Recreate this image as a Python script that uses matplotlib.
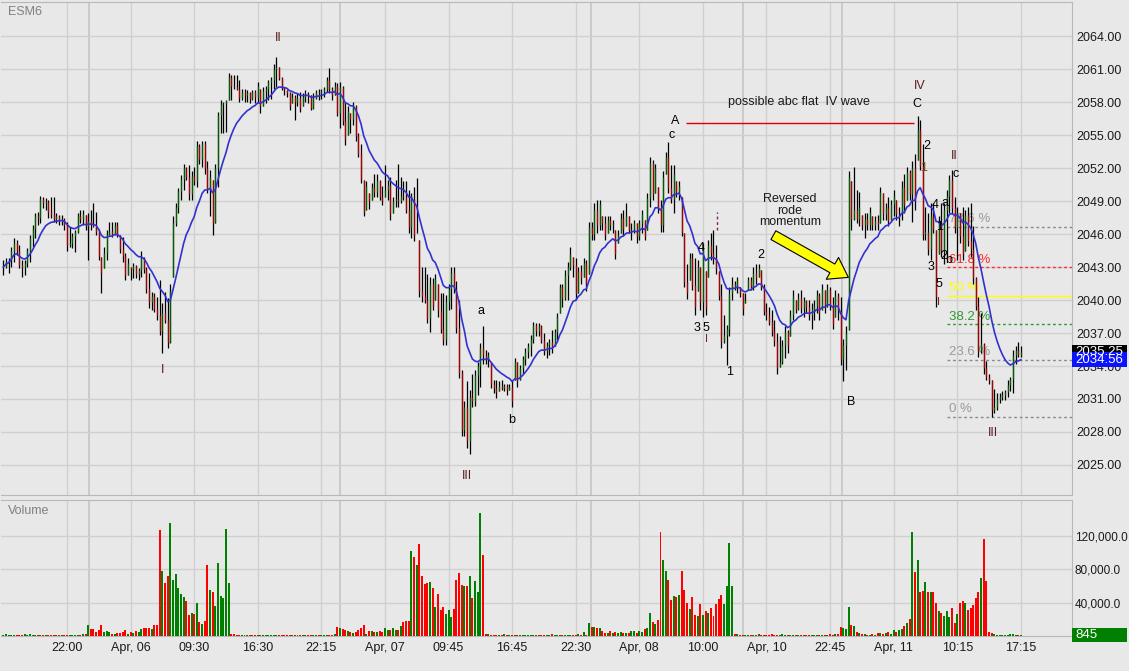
import matplotlib.pyplot as plt
import numpy as np
import pandas as pd
from matplotlib.patches import Rectangle
from matplotlib.transforms import blended_transform_factory

plt.rcParams['font.family'] = ['Liberation Sans', 'DejaVu Sans']

# ESM6 bars (one bar per column, left to right)
highs = [
    2043.6, 2043.8, 2043.8, 2044.8, 2045.6, 2045.5, 2045.0, 2043.6, 2043.6, 2044.7,
    2045.9, 2046.8, 2047.9, 2048.0, 2049.5, 2049.4, 2049.3, 2049.1, 2049.4, 2049.4,
    2047.9, 2047.7, 2047.7, 2047.5, 2047.1, 2046.6, 2046.1, 2046.4, 2047.9, 2048.2,
    2048.2, 2047.7, 2047.9, 2048.2, 2048.8, 2048.0, 2046.5, 2043.9, 2044.8, 2046.4,
    2047.1, 2047.1, 2047.1, 2047.1, 2045.9, 2045.7, 2044.3, 2043.8, 2043.0, 2043.4,
    2043.2, 2042.9, 2044.5, 2043.9, 2043.0, 2042.5, 2040.7, 2040.6, 2040.3, 2041.8,
    2039.7, 2040.7, 2040.2, 2041.5, 2047.6, 2048.8, 2050.2, 2051.4, 2052.4, 2052.1,
    2052.3, 2051.7, 2052.1, 2054.5, 2054.2, 2054.5, 2054.5, 2052.6, 2051.8, 2050.9,
    2052.4, 2057.1, 2058.2, 2058.0, 2058.2, 2060.6, 2060.5, 2060.5, 2060.5, 2060.0,
    2059.2, 2059.2, 2059.1, 2058.9, 2059.1, 2059.1, 2059.8, 2059.2, 2059.4, 2059.5,
    2060.0, 2060.3, 2061.5, 2062.1, 2061.2, 2060.3, 2059.4, 2059.1, 2058.9, 2058.8,
    2058.6, 2058.8, 2058.9, 2058.8, 2059.1, 2058.9, 2058.6, 2058.8, 2059.1, 2059.2,
    2059.2, 2059.4, 2060.3, 2061.1, 2059.4, 2059.8, 2059.7, 2059.8, 2059.5, 2058.0,
    2057.6, 2057.0, 2058.0, 2057.7, 2055.2, 2054.2, 2050.9, 2050.8, 2049.7, 2050.6,
    2051.5, 2051.5, 2050.9, 2050.4, 2052.3, 2050.9, 2051.2, 2049.4, 2050.9, 2052.4,
    2051.2, 2050.8, 2050.8, 2050.0, 2049.7, 2050.3, 2051.1, 2045.5, 2043.0, 2043.0,
    2042.4, 2042.1, 2042.0, 2042.4, 2041.5, 2040.6, 2040.6, 2040.5, 2041.5, 2043.0,
    2043.0, 2041.7, 2040.0, 2033.6, 2030.8, 2032.6, 2031.8, 2033.3, 2033.6, 2034.4,
    2036.1, 2037.6, 2035.5, 2035.3, 2034.4, 2032.7, 2032.7, 2032.6, 2032.7, 2032.4,
    2032.4, 2032.4, 2032.7, 2034.7, 2034.4, 2034.1, 2034.9, 2035.6, 2036.1, 2036.8,
    2038.0, 2037.9, 2037.9, 2037.7, 2037.0, 2036.2, 2036.5, 2037.3, 2037.4, 2038.8,
    2041.5, 2041.5, 2042.7, 2043.5, 2044.8, 2043.9, 2043.8, 2043.0, 2043.2, 2043.8,
    2043.6, 2047.1, 2047.1, 2048.8, 2049.1, 2049.1, 2047.6, 2047.6, 2047.6, 2047.6,
    2047.3, 2046.4, 2046.4, 2047.9, 2048.2, 2048.8, 2047.6, 2047.0, 2047.3, 2047.0,
    2047.3, 2048.2, 2047.3, 2049.7, 2053.0, 2052.7, 2052.4, 2050.3, 2049.1, 2051.7,
    2053.5, 2054.4, 2052.3, 2052.3, 2050.8, 2050.8, 2049.4, 2046.1, 2043.3, 2044.3,
    2044.3, 2043.8, 2043.6, 2043.0, 2045.2, 2042.6, 2045.5, 2046.1, 2046.4, 2045.0,
    2042.6, 2041.5, 2038.6, 2037.7, 2041.2, 2042.1, 2041.7, 2042.1, 2041.2, 2040.6,
    2040.6, 2042.1, 2042.1, 2043.0, 2043.3, 2043.3, 2042.7, 2041.5, 2039.7, 2039.4,
    2039.1, 2038.2, 2037.0, 2036.7, 2036.4, 2037.6, 2037.3, 2039.1, 2040.9, 2040.0,
    2040.6, 2040.9, 2040.3, 2040.0, 2040.0, 2039.7, 2040.0, 2040.9, 2040.6, 2041.5,
    2040.9, 2041.5, 2041.2, 2040.3, 2040.9, 2040.6, 2040.3, 2036.5, 2037.6, 2051.7,
    2050.8, 2052.1, 2050.0, 2049.8, 2047.7, 2047.9, 2047.9, 2048.5, 2047.6, 2047.6,
    2047.7, 2050.3, 2049.7, 2048.8, 2049.4, 2049.1, 2050.0, 2049.1, 2048.5, 2050.8,
    2051.5, 2052.1, 2051.8, 2052.6, 2053.3, 2056.7, 2056.4, 2054.2, 2048.5, 2047.9,
    2048.8, 2048.8, 2046.4, 2047.6, 2048.8, 2048.8, 2050.0, 2051.4, 2051.8, 2049.4,
    2048.5, 2047.9, 2048.5, 2048.2, 2048.5, 2048.8, 2046.7, 2042.1, 2040.3, 2038.8,
    2036.1, 2034.5, 2033.3, 2032.7, 2031.9, 2031.5, 2031.5, 2031.7, 2031.8, 2032.7,
    2033.0, 2035.5, 2035.8, 2036.2, 2035.8,
]
lows = [
    2042.3, 2042.9, 2042.5, 2043.0, 2043.5, 2044.1, 2042.9, 2042.1, 2042.3, 2043.0,
    2043.5, 2044.8, 2045.6, 2046.8, 2047.0, 2048.4, 2048.2, 2047.5, 2047.5, 2047.1,
    2047.0, 2046.8, 2046.8, 2046.4, 2044.5, 2044.8, 2044.7, 2044.4, 2046.1, 2047.0,
    2046.8, 2046.4, 2043.6, 2046.4, 2046.6, 2045.9, 2043.6, 2040.6, 2042.9, 2043.6,
    2045.9, 2045.7, 2045.9, 2045.7, 2044.3, 2043.5, 2041.8, 2042.3, 2041.8, 2042.0,
    2042.0, 2041.8, 2042.1, 2042.5, 2040.6, 2039.3, 2039.1, 2038.9, 2038.2, 2036.8,
    2035.2, 2037.9, 2035.6, 2036.1, 2042.1, 2046.7, 2047.9, 2049.1, 2050.0, 2050.9,
    2049.1, 2049.1, 2050.5, 2050.3, 2052.4, 2052.1, 2051.5, 2049.7, 2047.6, 2045.9,
    2047.0, 2050.3, 2055.2, 2055.2, 2055.3, 2058.2, 2058.2, 2059.2, 2059.1, 2058.0,
    2058.2, 2058.0, 2058.0, 2057.9, 2058.2, 2057.9, 2058.0, 2057.0, 2057.6, 2057.9,
    2058.2, 2058.3, 2059.2, 2059.4, 2060.0, 2059.1, 2058.6, 2058.5, 2057.3, 2057.9,
    2056.4, 2057.6, 2057.1, 2057.6, 2058.0, 2057.9, 2057.3, 2057.4, 2058.3, 2058.2,
    2058.3, 2058.5, 2058.9, 2058.8, 2058.2, 2058.6, 2056.7, 2055.6, 2055.9, 2054.1,
    2055.0, 2055.2, 2055.9, 2054.5, 2053.0, 2050.6, 2047.6, 2048.2, 2048.3, 2049.1,
    2049.4, 2049.4, 2049.1, 2048.6, 2049.4, 2049.1, 2047.3, 2047.9, 2048.5, 2048.5,
    2048.8, 2049.1, 2047.9, 2046.1, 2045.6, 2045.4, 2046.1, 2040.3, 2039.8, 2039.7,
    2037.9, 2037.1, 2039.1, 2040.0, 2038.5, 2037.0, 2035.9, 2035.9, 2039.1, 2039.2,
    2040.6, 2037.0, 2032.9, 2027.6, 2027.6, 2026.5, 2026.0, 2030.3, 2030.4, 2031.4,
    2032.1, 2034.2, 2034.2, 2033.9, 2032.0, 2031.5, 2031.1, 2031.7, 2031.8, 2031.7,
    2031.4, 2031.8, 2030.3, 2032.7, 2032.1, 2032.7, 2033.3, 2034.1, 2034.7, 2034.9,
    2036.1, 2036.7, 2036.7, 2036.1, 2035.0, 2034.7, 2035.0, 2035.2, 2035.8, 2036.4,
    2038.8, 2039.4, 2040.0, 2040.0, 2042.7, 2042.1, 2040.0, 2040.6, 2041.5, 2042.1,
    2040.8, 2042.4, 2045.5, 2045.5, 2046.1, 2046.4, 2046.4, 2045.5, 2046.1, 2046.4,
    2046.1, 2043.7, 2045.2, 2046.1, 2045.8, 2046.7, 2046.1, 2045.5, 2046.1, 2045.2,
    2045.5, 2046.1, 2045.5, 2046.4, 2048.5, 2049.1, 2049.7, 2047.9, 2046.2, 2046.2,
    2051.5, 2049.7, 2048.8, 2047.9, 2049.4, 2049.1, 2045.8, 2041.2, 2040.1, 2041.8,
    2040.9, 2038.6, 2040.8, 2039.1, 2038.5, 2038.6, 2042.1, 2043.6, 2043.3, 2042.4,
    2040.0, 2035.6, 2036.1, 2034.1, 2036.7, 2040.0, 2040.9, 2040.6, 2040.3, 2038.6,
    2039.7, 2040.9, 2040.9, 2040.9, 2041.5, 2042.1, 2040.9, 2038.6, 2038.2, 2037.7,
    2036.7, 2035.8, 2033.3, 2033.9, 2034.2, 2034.7, 2035.2, 2036.7, 2038.2, 2038.8,
    2039.1, 2038.8, 2038.5, 2038.8, 2038.2, 2037.4, 2038.2, 2038.8, 2038.2, 2039.1,
    2038.8, 2039.4, 2039.1, 2037.4, 2038.5, 2038.2, 2034.1, 2032.6, 2033.6, 2037.3,
    2046.4, 2047.3, 2047.0, 2046.7, 2046.4, 2045.6, 2046.4, 2046.4, 2046.4, 2046.4,
    2046.4, 2047.0, 2047.3, 2047.3, 2046.7, 2047.3, 2047.6, 2047.3, 2046.7, 2047.3,
    2047.9, 2049.1, 2049.1, 2047.1, 2048.2, 2052.7, 2051.8, 2045.5, 2045.5, 2044.1,
    2043.6, 2046.1, 2039.4, 2044.2, 2043.9, 2043.3, 2043.6, 2047.9, 2047.9, 2046.1,
    2043.6, 2045.2, 2043.6, 2044.5, 2044.9, 2043.9, 2041.5, 2039.1, 2034.8, 2035.2,
    2033.3, 2032.7, 2032.4, 2029.4, 2029.7, 2030.0, 2030.6, 2030.9, 2030.9, 2031.2,
    2031.7, 2031.5, 2034.2, 2034.8, 2034.8,
]
closes = [
    2043.0, 2043.5, 2043.6, 2044.5, 2045.2, 2044.5, 2043.2, 2043.0, 2043.4, 2044.5,
    2045.6, 2046.5, 2047.6, 2047.5, 2049.2, 2048.8, 2048.9, 2048.0, 2047.8, 2047.4,
    2047.6, 2047.3, 2047.4, 2046.8, 2045.0, 2045.2, 2045.8, 2046.2, 2047.6, 2047.4,
    2047.8, 2046.7, 2047.2, 2046.9, 2046.7, 2046.2, 2044.0, 2042.5, 2044.3, 2046.0,
    2046.3, 2046.0, 2046.8, 2046.0, 2044.6, 2044.0, 2042.3, 2043.4, 2042.8, 2043.1,
    2042.4, 2042.7, 2043.8, 2042.8, 2041.0, 2039.8, 2040.4, 2039.2, 2038.6, 2037.2,
    2038.8, 2038.2, 2036.2, 2040.8, 2047.0, 2048.5, 2049.9, 2051.0, 2052.0, 2051.2,
    2049.6, 2051.3, 2050.8, 2054.0, 2052.8, 2054.2, 2052.0, 2050.0, 2051.2, 2047.0,
    2052.0, 2056.8, 2057.8, 2057.9, 2058.1, 2060.3, 2059.5, 2059.4, 2059.2, 2058.4,
    2058.9, 2058.6, 2058.8, 2058.3, 2058.9, 2058.5, 2059.5, 2057.6, 2059.0, 2059.2,
    2059.8, 2060.0, 2061.0, 2061.2, 2060.2, 2059.3, 2059.1, 2058.8, 2057.6, 2058.5,
    2058.0, 2058.4, 2057.5, 2058.5, 2058.7, 2058.6, 2057.5, 2058.4, 2058.9, 2058.8,
    2059.0, 2059.2, 2060.0, 2059.2, 2058.6, 2059.5, 2057.0, 2059.4, 2056.3, 2054.6,
    2057.2, 2056.5, 2057.6, 2054.9, 2053.3, 2051.0, 2048.0, 2050.4, 2049.0, 2050.3,
    2049.8, 2050.8, 2049.4, 2049.0, 2050.0, 2050.5, 2047.8, 2049.0, 2049.2, 2049.0,
    2049.5, 2049.4, 2048.2, 2046.6, 2049.2, 2045.9, 2046.2, 2040.8, 2040.4, 2040.0,
    2038.4, 2041.5, 2039.5, 2041.9, 2039.0, 2037.4, 2036.4, 2039.8, 2041.0, 2042.5,
    2041.0, 2037.5, 2033.4, 2028.2, 2030.3, 2027.2, 2031.2, 2030.8, 2033.2, 2034.0,
    2035.6, 2035.0, 2034.6, 2035.0, 2032.4, 2032.0, 2031.6, 2032.2, 2032.0, 2032.2,
    2031.8, 2032.1, 2030.8, 2034.4, 2032.6, 2033.8, 2034.6, 2035.3, 2035.8, 2036.5,
    2037.7, 2037.2, 2037.6, 2036.4, 2035.4, 2035.9, 2036.2, 2035.6, 2037.1, 2038.5,
    2041.2, 2040.2, 2042.3, 2043.0, 2044.2, 2043.2, 2040.6, 2042.6, 2042.0, 2043.4,
    2041.5, 2046.6, 2046.0, 2048.2, 2046.8, 2048.7, 2047.0, 2045.9, 2047.3, 2046.8,
    2046.9, 2044.2, 2045.9, 2047.5, 2046.5, 2047.6, 2046.4, 2046.5, 2047.0, 2045.8,
    2047.0, 2047.8, 2045.8, 2049.3, 2052.5, 2049.6, 2052.0, 2048.4, 2046.8, 2051.2,
    2053.0, 2050.2, 2049.2, 2051.5, 2049.8, 2050.4, 2046.2, 2041.6, 2040.6, 2043.8,
    2041.4, 2039.4, 2043.0, 2039.8, 2044.6, 2039.3, 2045.0, 2044.3, 2043.8, 2042.9,
    2040.4, 2036.3, 2036.8, 2037.4, 2040.6, 2041.5, 2041.2, 2041.8, 2040.6, 2039.2,
    2040.0, 2041.8, 2041.2, 2042.5, 2042.0, 2042.9, 2041.2, 2039.0, 2038.6, 2038.0,
    2037.2, 2036.3, 2033.8, 2034.4, 2035.9, 2037.1, 2035.8, 2038.6, 2040.4, 2039.2,
    2040.2, 2039.3, 2039.9, 2039.4, 2038.6, 2039.2, 2039.5, 2040.5, 2038.8, 2041.0,
    2039.4, 2040.9, 2039.6, 2037.8, 2040.4, 2039.0, 2034.6, 2035.9, 2037.0, 2051.2,
    2047.4, 2048.2, 2047.4, 2048.5, 2046.8, 2047.4, 2046.8, 2048.0, 2046.8, 2047.2,
    2046.9, 2049.8, 2047.8, 2048.4, 2047.2, 2048.7, 2049.5, 2047.8, 2047.9, 2050.3,
    2048.6, 2051.6, 2049.6, 2052.0, 2049.0, 2055.5, 2052.2, 2046.0, 2046.2, 2044.6,
    2047.6, 2046.5, 2040.3, 2047.0, 2044.5, 2048.2, 2049.5, 2050.9, 2048.4, 2046.6,
    2047.9, 2045.8, 2044.2, 2047.7, 2045.4, 2044.6, 2042.0, 2039.5, 2035.4, 2036.0,
    2033.8, 2033.0, 2032.7, 2030.0, 2030.3, 2031.0, 2031.2, 2031.4, 2031.6, 2032.3,
    2032.8, 2035.0, 2035.5, 2035.0, 2035.25,
]
volume = [
    900, 2800, 800, 1200, 900, 1400, 800, 1600, 2400, 1600,
    2000, 1200, 1000, 800, 900, 700, 800, 600, 700, 900,
    600, 700, 800, 600, 700, 600, 800, 1000, 900, 700,
    2000, 2400, 12800, 8000, 8000, 5200, 6800, 12800, 4800, 5600,
    5200, 2800, 2400, 3600, 4000, 5200, 6800, 2000, 4800, 3200,
    6400, 5200, 8000, 9600, 10000, 9600, 8800, 12800, 12800, 126000,
    78000, 62800, 71200, 134800, 67200, 73600, 56800, 50000, 46800, 41200,
    25600, 28000, 26000, 40000, 17200, 14000, 18400, 84800, 55200, 52800,
    36000, 86800, 47200, 44800, 127200, 62800, 2800, 2000, 1200, 800,
    1600, 900, 700, 1000, 800, 1400, 600, 900, 1200, 800,
    700, 1000, 1600, 1200, 800, 700, 900, 600, 800, 1400,
    700, 600, 900, 800, 700, 1000, 600, 800, 1200, 900,
    700, 1000, 800, 1200, 1600, 2000, 11200, 10000, 8000, 7600,
    5600, 5200, 4000, 4800, 6800, 10000, 13200, 2000, 5600, 5600,
    5200, 4800, 6400, 5200, 9600, 6800, 6800, 9600, 6800, 6800,
    12000, 16800, 18000, 17600, 101200, 94800, 84800, 109600, 71200, 62000,
    63200, 64000, 57200, 34800, 50000, 30800, 34800, 26800, 30800, 23200,
    32000, 67200, 74800, 60800, 59200, 59200, 71200, 44800, 65200, 52000,
    146800, 96800, 2800, 2000, 1600, 1200, 800, 1000, 700, 2000,
    900, 600, 1400, 800, 700, 1000, 600, 900, 1200, 800,
    700, 1000, 800, 600, 900, 700, 1000, 2400, 800, 600,
    900, 1200, 700, 800, 1000, 600, 900, 2800, 800, 4400,
    1600, 16000, 11200, 11200, 9600, 10000, 6000, 4000, 4000, 6000,
    3600, 4800, 4000, 4800, 4000, 4000, 4000, 6000, 6400, 4000,
    6000, 4400, 8800, 9600, 28000, 17200, 14000, 19200, 124000, 90800,
    78000, 66800, 43200, 48000, 46000, 48800, 77200, 55200, 40000, 32000,
    46000, 25600, 24000, 38800, 25200, 30000, 27200, 34000, 24000, 38000,
    44000, 48800, 38000, 59200, 110800, 60000, 2000, 2800, 1200, 800,
    1000, 700, 1600, 900, 600, 2400, 1200, 800, 700, 1000,
    2000, 800, 600, 1200, 2800, 900, 700, 1000, 800, 1400,
    600, 700, 900, 600, 800, 1000, 700, 1200, 600, 800,
    900, 1600, 2000, 1200, 1800, 2400, 10800, 10000, 8800, 35200,
    12800, 12000, 4800, 4000, 2000, 2400, 1600, 1600, 2000, 1200,
    3200, 4000, 2400, 3600, 4400, 2400, 6800, 4400, 7200, 8800,
    12000, 16000, 20000, 124000, 76000, 90800, 52800, 54000, 64000, 52800,
    52000, 52800, 40000, 29600, 28000, 24000, 29600, 22800, 34000, 15200,
    26000, 40000, 42000, 40000, 31200, 33000, 36800, 44800, 52000, 68800,
    116000, 65200, 4800, 4000, 2800, 1200, 800, 1600, 1000, 1200,
    2400, 2000, 1600, 1200, 845,
]

tick_pos = [24, 48, 72, 96, 120, 144, 168, 192, 216, 240, 264, 288, 312, 336, 360, 384]
tick_labels = ['22:00', 'Apr, 06', '09:30', '16:30', '22:15', 'Apr, 07', '09:45', '16:45',
               '22:30', 'Apr, 08', '10:00', 'Apr, 10', '22:45', 'Apr, 11', '10:15', '17:15']
session_pos = [32.4, 127.1, 221.8, 279.1, 316.5]

ma_last = 2034.56          # value shown in the blue price box
fib_low, fib_high = 2029.4, 2051.35
fib_pct = [78.6, 61.8, 50, 38.2, 23.6, 0]
fib_colors = ['#9a9a9a', '#ff2a2a', '#ffff00', '#2f9a2f', '#9a9a9a', '#9a9a9a']

for name, arr in [('lows', lows), ('closes', closes), ('volume', volume)]:
    assert len(arr) == len(highs), (name, len(arr), len(highs))

highs = np.array(highs)
lows = np.array(lows)
closes = np.array(closes)
volume = np.array(volume)
n = len(closes)
x = np.arange(n)
opens = np.clip(np.r_[closes[0], closes[:-1]], lows, highs)
up = closes >= opens
ma = pd.Series(closes).ewm(span=14).mean().values

BG = '#e8e8e8'
GRID = '#d0d0d0'
WAVE = '#5a1e1e'

fig = plt.figure(figsize=(11.29, 6.71), dpi=100, facecolor=BG)
ax = fig.add_axes([1 / 1129, 176 / 671, 1071 / 1129, 493 / 671], facecolor=BG)
axv = fig.add_axes([1 / 1129, 35 / 671, 1071 / 1129, 136 / 671], facecolor=BG)

# ---- price panel
ax.vlines(x, lows, highs, color='black', lw=0.9, zorder=3)
ax.vlines(x[up], opens[up], closes[up], color='#006000', lw=0.9, zorder=4)
ax.vlines(x[~up], opens[~up], closes[~up], color='#a80000', lw=0.9, zorder=4)
ax.plot(x, ma, color='#3232d0', lw=1.2, zorder=5)

ax.set_xlim(-0.9, 403.3)
ax.set_ylim(2022.27, 2067.1)
ax.set_yticks(np.arange(2025, 2065, 3))
ax.yaxis.set_major_formatter(plt.FormatStrFormatter('%.2f'))
ax.yaxis.tick_right()
ax.tick_params(axis='y', length=0, pad=3, labelsize=9, labelcolor='#1a1a1a')
ax.set_xticks(tick_pos)
ax.tick_params(axis='x', length=0, labelbottom=False)
ax.grid(True, color=GRID, lw=1, zorder=0)
for s in session_pos:
    ax.axvline(s, color='#c4c4c4', lw=1.2, zorder=0)
ax.spines['left'].set_visible(False)
for sp in ['right', 'top', 'bottom']:
    ax.spines[sp].set_color('#b8b8b8')
ax.text(7 / 1071, 0.992, 'ESM6', transform=ax.transAxes, ha='left', va='top',
        color='#808080', fontsize=9)

# wave counts
waves = [
    (103.7, 2063.8, 'II', WAVE), (59.9, 2033.6, 'I', WAVE), (175.0, 2024.0, 'III', WAVE),
    (180.3, 2039.0, 'a', 'black'), (192.0, 2029.1, 'b', 'black'),
    (253.5, 2056.3, 'A', 'black'), (252.3, 2055.0, 'c', 'black'),
    (263.3, 2044.7, '4', 'black'), (261.8, 2037.5, '3', 'black'), (265.2, 2037.5, '5', 'black'),
    (274.2, 2033.45, '1', 'black'), (285.9, 2044.1, '2', 'black'), (319.9, 2030.7, 'B', 'black'),
    (345.9, 2059.45, 'IV', WAVE), (344.8, 2057.8, 'C', 'black'),
    (348.6, 2054.0, '2', 'black'), (347.4, 2052.0, '1', '#7a4a10'),
    (358.8, 2053.1, 'II', WAVE), (359.5, 2051.5, 'c', 'black'),
    (355.4, 2048.8, 'a', 'black'), (351.6, 2048.6, '4', 'black'), (353.5, 2046.6, '1', 'black'),
    (355.0, 2044.0, '2', 'black'), (356.9, 2043.6, 'b', 'black'), (350.1, 2043.0, '3', 'black'),
    (353.1, 2041.45, '5', 'black'), (373.5, 2027.9, 'III', WAVE),
]
for wx, wy, s, c in waves:
    ax.text(wx, wy, s, ha='center', va='center', fontsize=9, color=c, zorder=6)
for wx, wy in [(265.4, 2036.5), (353.1, 2039.8)]:
    ax.text(wx, wy, 'I', ha='center', va='center', fontsize=8, color='#7a2020', zorder=6)
ax.vlines(269.2, 2046.4, 2048.0, colors='#7a2060', linestyles=(0, (2, 2)), lw=1, zorder=6)

ax.hlines(2056.1, 257.6, 343.7, color='#e00000', lw=1, zorder=6)
ax.text(300.3, 2058.0, 'possible abc flat  IV wave', ha='center', va='center',
        fontsize=9, color='#1a1a1a')
ax.text(296.9, 2048.1, 'Reversed\nrode\nmomentum', ha='center', va='center',
        fontsize=9, color='#1a1a1a', linespacing=0.95, zorder=6)
ax.annotate('', xy=(318.9, 2042.06), xytext=(290.6, 2045.9),
            arrowprops=dict(arrowstyle='simple,head_length=1.1,head_width=1.5,tail_width=0.6',
                            mutation_scale=12, fc='#ffff00', ec='black', lw=0.8,
                            shrinkA=0, shrinkB=0), zorder=7)

# fibonacci retracement
for pct, c in zip(fib_pct, fib_colors):
    lvl = fib_low + (fib_high - fib_low) * pct / 100
    lc = '#8a8a8a' if c == '#9a9a9a' else c
    ax.hlines(lvl, 356.0, 403.3, colors=lc, linestyles=(0, (2, 2)) if pct != 50 else '-',
              lw=1, zorder=2)
    ax.text(357.0, lvl + 0.15, f'{pct:g} %', ha='left', va='bottom', fontsize=9.5,
            color=c, zorder=2)

# price boxes on the right axis
bt = blended_transform_factory(ax.transAxes, ax.transData)
for val, fc, txt in [(closes[-1], 'black', f'{closes[-1]:.2f}'),
                     (ma_last, '#0a14ff', f'{ma_last:.2f}')]:
    ax.add_patch(Rectangle((1.0, val - 0.68), 55 / 1071, 1.36, transform=bt,
                           facecolor=fc, edgecolor='none', clip_on=False, zorder=8))
    ax.text(1.0 + 3 / 1071, val, txt, transform=bt, ha='left', va='center',
            color='white', fontsize=9.5, clip_on=False, zorder=9)

# ---- volume panel
vcol = np.where(up, '#008000', '#ff0000')
axv.bar(x, volume, width=0.75, color=vcol, linewidth=0, zorder=3)
axv.set_xlim(-0.9, 403.3)
axv.set_ylim(0, 162400)
axv.set_yticks([40000, 80000, 120000])
axv.yaxis.set_major_formatter(plt.FuncFormatter(lambda v, p: f'{v:,.1f}'))
axv.yaxis.tick_right()
axv.tick_params(axis='y', length=0, pad=2, labelsize=8.5, labelcolor='#1a1a1a')
axv.set_xticks(tick_pos)
axv.set_xticklabels(tick_labels)
axv.tick_params(axis='x', length=0, pad=4, labelsize=9, labelcolor='#1a1a1a')
axv.grid(True, color=GRID, lw=1, zorder=0)
for s in session_pos:
    axv.axvline(s, color='#c4c4c4', lw=1.2, zorder=0)
axv.spines['left'].set_visible(False)
for sp in ['right', 'top', 'bottom']:
    axv.spines[sp].set_color('#b8b8b8')
axv.text(7 / 1071, 0.965, 'Volume', transform=axv.transAxes, ha='left', va='top',
         color='#808080', fontsize=9)
vt = blended_transform_factory(axv.transAxes, axv.transData)
axv.add_patch(Rectangle((1.0, volume[-1] - 8400), 55 / 1071, 16800, transform=vt,
                        facecolor='#008000', edgecolor='none', clip_on=False, zorder=8))
axv.text(1.0 + 3 / 1071, volume[-1], f'{volume[-1]:d}', transform=vt, ha='left',
         va='center', color='white', fontsize=9.5, clip_on=False, zorder=9)

fig.savefig('out.png', dpi=100, facecolor=BG)
